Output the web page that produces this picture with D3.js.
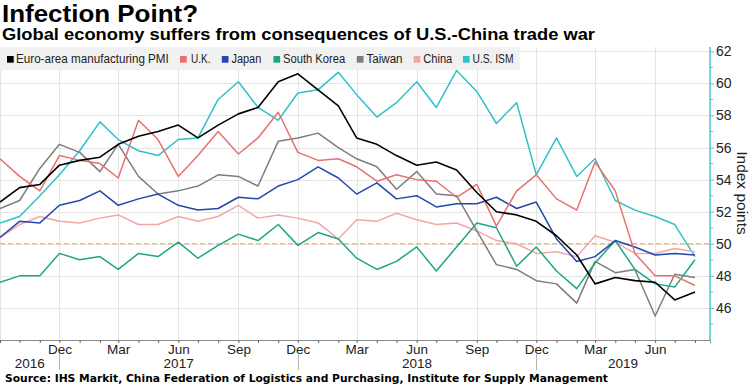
<!DOCTYPE html>
<html><head><meta charset="utf-8">
<script src="https://cdn.jsdelivr.net/npm/d3@7"></script>
<style>body{margin:0;background:#fff;} svg{display:block;}</style>
</head><body>
<svg id="chart" width="752" height="386"></svg>
<script>
// ---------- DATA ----------
const months = ["2016-09","2016-10","2016-11","2016-12","2017-01","2017-02","2017-03","2017-04","2017-05","2017-06","2017-07","2017-08","2017-09","2017-10","2017-11","2017-12","2018-01","2018-02","2018-03","2018-04","2018-05","2018-06","2018-07","2018-08","2018-09","2018-10","2018-11","2018-12","2019-01","2019-02","2019-03","2019-04","2019-05","2019-06","2019-07","2019-08"];
const seriesNames = ["Euro-area manufacturing PMI","U.K.","Japan","South Korea","Taiwan","China","U.S. ISM"];
const seriesColors = ["#000000","#e8716e","#2347ad","#1ea683","#7d7d7d","#f4a6a6","#30c1c9"];
const euro   = [52.6,53.5,53.7,54.9,55.2,55.4,56.2,56.7,57.0,57.4,56.6,57.4,58.1,58.5,60.1,60.6,59.6,58.6,56.6,56.2,55.5,54.9,55.1,54.6,53.2,52.0,51.8,51.4,50.5,49.3,47.5,47.9,47.7,47.6,46.5,47.0];
const uk     = [55.3,54.2,53.3,55.5,55.2,55.0,54.1,57.7,56.5,54.2,55.5,57.0,55.6,56.6,58.2,55.7,55.2,55.3,54.8,53.9,54.3,54.0,53.9,52.9,53.7,51.1,53.3,54.3,52.8,52.1,55.1,53.3,49.4,48.0,48.0,47.4];
const japan  = [50.4,51.4,51.3,52.4,52.7,53.3,52.4,52.8,53.1,52.4,52.1,52.2,52.9,52.8,53.6,54.0,54.8,54.1,53.1,53.8,52.8,53.0,52.3,52.5,52.5,52.9,52.2,52.6,50.3,48.9,49.2,50.2,49.8,49.3,49.4,49.3];
const korea  = [47.6,48.0,48.0,49.4,49.0,49.2,48.4,49.4,49.2,50.1,49.1,49.9,50.6,50.2,51.2,49.9,50.7,50.3,49.1,48.4,48.9,49.8,48.3,49.8,51.3,51.0,48.6,49.8,48.3,47.2,48.8,50.2,48.4,47.5,47.3,49.0];
const taiwan = [52.2,52.7,54.7,56.2,55.7,54.5,56.2,54.2,53.1,53.3,53.6,54.3,54.2,53.6,56.4,56.6,56.9,56.0,55.3,54.8,53.4,54.5,53.1,53.0,50.8,48.7,48.4,47.7,47.5,46.3,48.9,48.2,48.4,45.5,48.1,47.9];
const china  = [50.4,51.2,51.7,51.4,51.3,51.6,51.8,51.2,51.2,51.7,51.4,51.7,52.4,51.6,51.8,51.6,51.3,50.3,51.5,51.4,51.9,51.5,51.2,51.3,50.8,50.2,50.0,49.4,49.5,49.2,50.5,50.1,49.4,49.4,49.7,49.5];
const ism    = [51.3,51.7,53.0,54.3,55.8,57.6,56.5,55.8,55.5,56.5,56.6,59.0,60.1,58.5,57.7,59.4,59.6,60.7,59.3,57.9,58.8,60.1,58.5,60.8,59.5,57.5,58.8,54.3,56.6,54.2,55.3,52.7,52.1,51.7,51.2,49.2];
const yTicks = [46,48,50,52,54,56,58,60,62];
const yMinorTicks = [45,47,49,51,53,55,57,59,61];
const quarterMonthLabels = {11:"Dec", 2:"Mar", 5:"Jun", 8:"Sep"};
const yearLabels = ["2016","2017","2018","2019"];
const referenceLevel = 50;
const titleText = "Infection Point?";
const subtitleText = "Global economy suffers from consequences of U.S.-China trade war";
const sourceText = "Source: IHS Markit, China Federation of Logistics and Purchasing, Institute for Supply Management";
const axisTitle = "Index points";

// ---------- LAYOUT ----------
const svg = d3.select("#chart");
const plot = {left: 0, right: 710, top: 47, bottom: 340};
const parse = s => { const [y,m] = s.split("-").map(Number); return new Date(Date.UTC(y, m-1, 1)); };
const dates = months.map(parse);

const x = d3.scaleUtc()
  .domain([new Date(Date.UTC(2016,8,1)), new Date(Date.UTC(2019,7,24))])
  .range([plot.left, plot.right]);
const y = d3.scaleLinear().domain([44, 62.27]).range([plot.bottom, plot.top]);

const fit = (sel, w) => sel.attr("textLength", w).attr("lengthAdjust", "spacingAndGlyphs");

// Title / subtitle
svg.append("text").attr("x", 2).attr("y", 22)
  .attr("font-family", "'Liberation Sans', Arial, sans-serif").attr("font-weight", "bold")
  .attr("font-size", 23).attr("fill", "#000").text(titleText).call(fit, 196);
svg.append("text").attr("x", 2).attr("y", 40)
  .attr("font-family", "'Liberation Sans', Arial, sans-serif").attr("font-weight", "bold")
  .attr("font-size", 16).attr("fill", "#000").text(subtitleText).call(fit, 593);

// Gridlines
const grid = svg.append("g");
grid.selectAll("line.h").data(yTicks).join("line")
  .attr("x1", plot.left).attr("x2", plot.right)
  .attr("y1", d => Math.round(y(d)) + 0.5).attr("y2", d => Math.round(y(d)) + 0.5)
  .attr("stroke", "#e4e4e4").attr("stroke-width", 1);
const quarterDates = dates.filter(d => quarterMonthLabels[d.getUTCMonth()] !== undefined);
grid.selectAll("line.v").data(quarterDates).join("line")
  .attr("x1", d => Math.round(x(d)) + 0.5).attr("x2", d => Math.round(x(d)) + 0.5)
  .attr("y1", plot.top).attr("y2", plot.bottom)
  .attr("stroke", "#e4e4e4").attr("stroke-width", 1);

// Legend
const legendG = svg.append("g");
legendG.append("rect").attr("x", 0).attr("y", 47).attr("width", 520).attr("height", 23).attr("fill", "#f1f1f1");
const legendSq = [7, 180, 221.8, 273.4, 356.8, 413.7, 462.9];
const legendTx = [[16,152.8],[191,19.5],[231.4,29.9],[283,62.2],[366.4,36.2],[423.3,29],[472.5,41]];
seriesNames.forEach((n, i) => {
  legendG.append("rect").attr("x", legendSq[i]).attr("y", 56).attr("width", 6.7).attr("height", 6.7).attr("fill", seriesColors[i]);
  legendG.append("text").attr("x", legendTx[i][0]).attr("y", 63)
    .attr("font-family", "'Liberation Sans Narrow', 'Liberation Sans', Arial, sans-serif")
    .attr("font-size", 12).attr("fill", "#222").text(n).call(fit, legendTx[i][1]);
});

// Clip
svg.append("clipPath").attr("id", "clip").append("rect")
  .attr("x", plot.left).attr("y", plot.top).attr("width", plot.right - plot.left).attr("height", plot.bottom - plot.top);

// Reference dashed line at 50
svg.append("line").attr("x1", plot.left).attr("x2", plot.right)
  .attr("y1", y(referenceLevel)).attr("y2", y(referenceLevel))
  .attr("stroke", "#f5bb7e").attr("stroke-width", 1.5).attr("stroke-dasharray", "5,3");

// Lines
const allSeries = [euro, uk, japan, korea, taiwan, china, ism];
const line = d3.line().x((d, i) => x(dates[i])).y(d => y(d));
const linesG = svg.append("g").attr("clip-path", "url(#clip)");
for (let i = allSeries.length - 1; i >= 0; i--) {
  linesG.append("path").datum(allSeries[i]).attr("d", line)
    .attr("fill", "none").attr("stroke", seriesColors[i])
    .attr("stroke-width", i === 0 ? 1.6 : 1.5).attr("stroke-linejoin", "round");
}

// X axis
const xAxis = d3.axisBottom(x).tickValues(dates).tickSize(3).tickPadding(1)
  .tickFormat(d => {
    const lab = quarterMonthLabels[d.getUTCMonth()];
    if (!lab || x(d) < 10) return "";
    return lab;
  });
const xg = svg.append("g").attr("transform", `translate(0,${plot.bottom})`).call(xAxis);
xg.select(".domain").attr("stroke", "#8a8a8a");
xg.selectAll(".tick line").attr("stroke", "#666");
xg.selectAll(".tick text").attr("font-family", "'Liberation Sans', Arial, sans-serif")
  .attr("font-size", 13.5).attr("fill", "#222");

// Year separators & labels
const decDates = dates.filter(d => d.getUTCMonth() === 11);
svg.append("g").selectAll("line").data(decDates).join("line")
  .attr("x1", d => Math.round(x(d)) + 0.5).attr("x2", d => Math.round(x(d)) + 0.5)
  .attr("y1", 354).attr("y2", 370).attr("stroke", "#b5b5b5").attr("stroke-width", 1);
const bounds = [plot.left, ...decDates.map(d => x(d)), plot.right];
svg.append("g").selectAll("text").data(yearLabels).join("text")
  .attr("x", (d, i) => (bounds[i] + bounds[i+1]) / 2).attr("y", 367.5)
  .attr("text-anchor", "middle")
  .attr("font-family", "'Liberation Sans', Arial, sans-serif").attr("font-size", 13.5).attr("fill", "#222")
  .text(d => d);

// Right Y axis
const yAxis = d3.axisRight(y).tickValues(yTicks).tickSize(4).tickPadding(2).tickFormat(d3.format("d"));
const yg = svg.append("g").attr("transform", `translate(${plot.right},0)`).call(yAxis);
yg.select(".domain").remove();
yg.append("line").attr("x1", 0).attr("x2", 0).attr("y1", plot.top).attr("y2", plot.bottom)
  .attr("stroke", "#47c6d3").attr("stroke-width", 1.5);
yg.selectAll(".tick line").attr("stroke", "#47c6d3");
yg.selectAll(".tick text").attr("font-family", "'Liberation Sans', Arial, sans-serif")
  .attr("font-size", 14).attr("fill", "#222");
yg.selectAll("line.minor").data(yMinorTicks).join("line").attr("class", "minor")
  .attr("x1", 0).attr("x2", 3).attr("y1", d => y(d)).attr("y2", d => y(d))
  .attr("stroke", "#47c6d3");

svg.append("text").attr("transform", "translate(742,193) rotate(90)")
  .attr("text-anchor", "middle").attr("dominant-baseline", "central")
  .attr("font-family", "'Liberation Sans', Arial, sans-serif").attr("font-size", 15.5).attr("fill", "#222")
  .text(axisTitle);

// Source
svg.append("text").attr("x", 5).attr("y", 382)
  .attr("font-family", "'DejaVu Sans', Verdana, sans-serif").attr("font-weight", "bold")
  .attr("font-size", 11).attr("fill", "#000").text(sourceText).call(fit, 603);
</script>
</body></html>
